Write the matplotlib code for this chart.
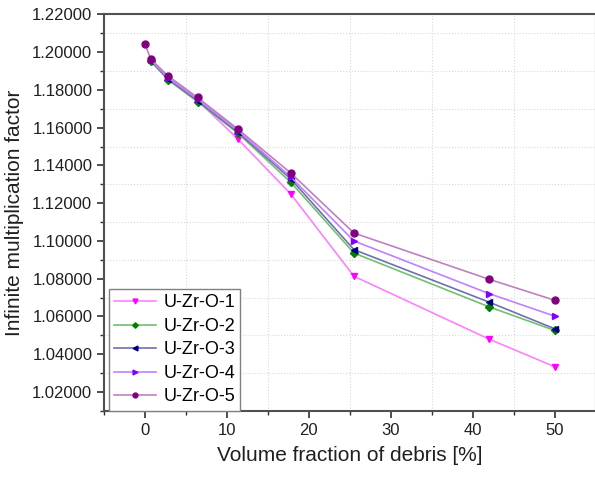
import numpy as np
import matplotlib.pyplot as plt
from matplotlib.ticker import MultipleLocator, FormatStrFormatter

plt.rcParams['font.family'] = ['Liberation Sans', 'DejaVu Sans']

# --- dados ---
x_frac = [0.7, 2.8, 6.4, 11.35, 17.8, 25.5, 42, 50]
x_frac5 = [0.0] + x_frac

k_1 = [1.1955, 1.1860, 1.1745, 1.1539, 1.1248, 1.0813, 1.0480, 1.0334]
k_2 = [1.1955, 1.1853, 1.1738, 1.1570, 1.1310, 1.0936, 1.0651, 1.0526]
k_3 = [1.1952, 1.1858, 1.1742, 1.1575, 1.1328, 1.0954, 1.0676, 1.0535]
k_4 = [1.1958, 1.1865, 1.1752, 1.1585, 1.1338, 1.1000, 1.0721, 1.0602]
k_5 = [1.2041, 1.1963, 1.1874, 1.1760, 1.1592, 1.1359, 1.1042, 1.0797, 1.0686]

nomes = ['U-Zr-O-1', 'U-Zr-O-2', 'U-Zr-O-3', 'U-Zr-O-4', 'U-Zr-O-5']

fig = plt.figure(figsize=(5.95, 4.8), dpi=100)
ax = fig.add_axes([0.175, 0.144, 0.826, 0.826])

series = [
    (x_frac, k_1, 'v', '#FF00FF', '#FF80FF'),
    (x_frac, k_2, 'D', '#008000', '#70C070'),
    (x_frac, k_3, '<', '#000080', '#7070B0'),
    (x_frac, k_4, '>', '#8000FF', '#C080FF'),
    (x_frac5, k_5, 'o', '#800080', '#C080C0'),
]
for (xs, ys, mk, cor_m, cor_l), nome in zip(series, nomes):
    ms = 4 if mk == 'D' else 5
    ax.plot(xs, ys, color=cor_l, lw=1.2, marker=mk, markersize=ms,
            markerfacecolor=cor_m, markeredgecolor=cor_m, label=nome)

ax.set_xlim(-5, 55)
ax.set_ylim(1.01, 1.22)
ax.xaxis.set_major_locator(MultipleLocator(10))
ax.xaxis.set_minor_locator(MultipleLocator(5))
ax.yaxis.set_major_locator(MultipleLocator(0.02))
ax.yaxis.set_minor_locator(MultipleLocator(0.01))
ax.yaxis.set_major_formatter(FormatStrFormatter('%.5f'))

# grade nas posições intermediárias (5, 15, ... / 1.21, 1.19, ...)
for gx in [5, 15, 25, 35, 45]:
    ax.axvline(gx, color='#d8d8d8', lw=0.8, linestyle=':', zorder=0)
for gy in np.arange(1.03, 1.22, 0.02):
    ax.axhline(gy, color='#d8d8d8', lw=0.8, linestyle=':', zorder=0)

for s in ax.spines.values():
    s.set_color('#505050')
    s.set_linewidth(1.5)
ax.tick_params(which='major', direction='out', length=5, width=1.2, color='#303030',
               labelsize=12, labelcolor='#202020')
ax.tick_params(which='minor', direction='out', length=3, width=1.0, color='#303030')

ax.set_xlabel('Volume fraction of debris [%]', fontsize=15, color='#202020', labelpad=6)
ax.set_ylabel('Infinite multiplication factor', fontsize=15, color='#202020', labelpad=6)

leg = ax.legend(loc='lower left', bbox_to_anchor=(0.01, 0.0), borderaxespad=0,
                fontsize=13, handlelength=2.3, labelspacing=0.36, fancybox=False,
                framealpha=1, edgecolor='#808080', borderpad=0.3, handletextpad=0.4,
                markerscale=0.7)
leg.get_frame().set_linewidth(1.0)

fig.savefig('out.png', dpi=100)
